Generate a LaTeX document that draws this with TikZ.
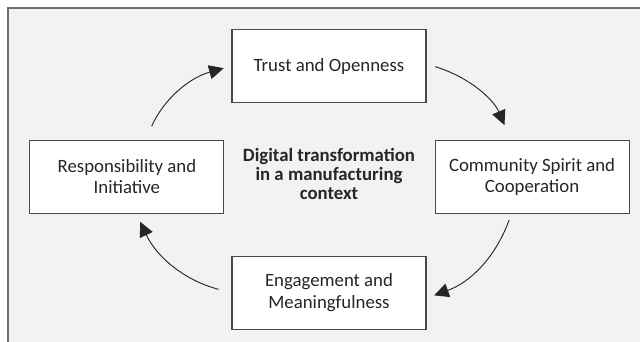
\documentclass[tikz,border=0pt]{standalone}
\usepackage{fontspec}
\setmainfont{Carlito}
\usepackage{xcolor}
\usepackage{tikz}
\usetikzlibrary{positioning,arrows.meta}

\definecolor{panelgray}{HTML}{F1F2F4}
\definecolor{framegray}{HTML}{6E6E6E}
\definecolor{boxline}{HTML}{4A4A4A}

\begin{document}
\begin{tikzpicture}[
  valuebox/.style={rectangle, draw=boxline, fill=white, line width=0.8pt,
                   minimum width=145.5pt, minimum height=54.5pt, align=center,
                   font=\fontsize{14.1}{16}\selectfont, text=black!85},
  centertext/.style={align=center, font=\fontsize{14.1}{14.4}\selectfont\bfseries, text=black!85},
  every edge/.style={  % cycle arrows
            draw,
            -{Triangle[length=11pt,width=10.5pt]},
            line width=0.7pt,
            black!85}
]
  % panel
  \path[use as bounding box] (-246.75pt,49.5pt) rectangle (233.25pt,-207pt);
  \fill[panelgray] (-240.375pt,43.125pt) rectangle (233.25pt,-207pt);
  \draw[framegray, line width=1.5pt] (-240.375pt,-207pt) -- (-240.375pt,43.125pt) -- (233.25pt,43.125pt);

  \node[valuebox] (trust) at (0,0) {Trust and Openness};
  \node[valuebox] (resp) [below left=27.75pt and 5.25pt of trust] {Responsibility and\\Initiative};
  \node[valuebox] (community) [below right=27.75pt and 6pt of trust] {Community Spirit and\\Cooperation};
  \node[valuebox] (engage) [below=114.75pt of trust] {Engagement and\\Meaningfulness};

  \node[centertext, yshift=2pt] (core) at (trust |- resp) {Digital transformation\\in a manufacturing\\context};

  \draw ([xshift=13.9pt]resp.north) edge [bend left=25, shorten <=11.25pt, shorten >=6pt] (trust.west);
  \draw ([yshift=1.5pt]trust.east) edge [bend left=25, shorten <=6.75pt, shorten >=12pt] ([xshift=-16pt]community.north);
  \draw ([xshift=-15.4pt]community.south) edge [bend left=25, shorten <=5pt, shorten >=6pt] ([yshift=-4pt]engage.east);
  \draw (engage.west) edge [bend left=25, shorten <=10pt, shorten >=6.75pt] ([xshift=7pt]resp.south);

\end{tikzpicture}
\end{document}
